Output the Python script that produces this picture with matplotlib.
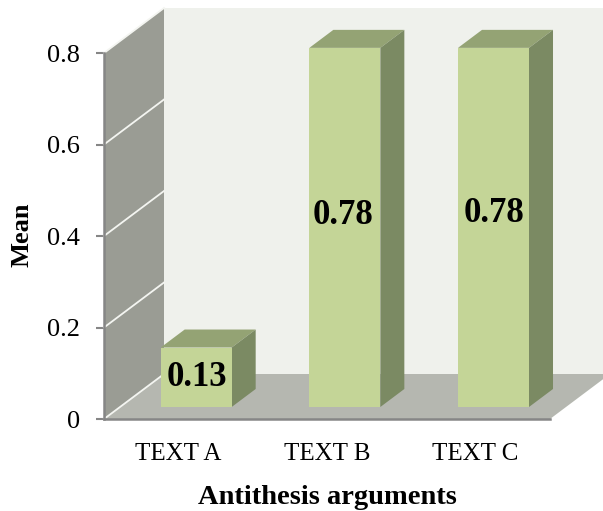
import matplotlib
matplotlib.use("Agg")
import matplotlib.pyplot as plt
from matplotlib.patches import Polygon

categories = ["TEXT A", "TEXT B", "TEXT C"]
bar_heights = [0.13, 0.785, 0.785]
bar_labels = ["0.13", "0.78", "0.78"]
y_ticks = [0, 0.2, 0.4, 0.6, 0.8]
y_tick_labels = ["0", "0.2", "0.4", "0.6", "0.8"]

W, H = 603, 511
plt.rcParams["font.family"] = ["Liberation Serif", "DejaVu Serif"]

fig = plt.figure(figsize=(W / 100, H / 100), dpi=100)
# axes box in pixels: left 104, right 550, y=0 at 419, y=0.8 at 53
ax = fig.add_axes([104 / W, 1 - 419 / H, 446 / W, 366 / H])
ax.set_xlim(-0.5, 2.5)
ax.set_ylim(0, 0.8)

# fake 3d depth, in data units
depth_x = 60 / 148.67
depth_y = 45 / 457.5
bar_dx = 24 / 148.67
bar_dy = 18 / 457.5
bar_base = 12 / 457.5
bar_width = 71 / 148.67
bar_shift = 0.12

def face(pts, color, z):
    ax.add_patch(Polygon(pts, closed=True, facecolor=color, edgecolor="none", zorder=z, clip_on=False))

# back wall, left wall, floor
face([(-0.5 + depth_x, depth_y), (2.5 + depth_x, depth_y), (2.5 + depth_x, 0.8 + depth_y), (-0.5 + depth_x, 0.8 + depth_y)], "#eff1ec", 1)
face([(-0.5, 0), (-0.5 + depth_x, depth_y), (-0.5 + depth_x, 0.8 + depth_y), (-0.5, 0.8)], "#9a9c94", 1)
face([(-0.5, 0), (2.5, 0), (2.5 + depth_x, depth_y), (-0.5 + depth_x, depth_y)], "#b5b7b0", 1)

# wall gridlines
for t in y_ticks:
    ax.plot([-0.5, -0.5 + depth_x], [t, t + depth_y], color="#f4f5f1", lw=1.3, zorder=2, clip_on=False)

xs = [i + bar_shift for i in range(len(categories))]
ax.bar(xs, bar_heights, width=bar_width, bottom=bar_base, color="#c4d597", zorder=4, clip_on=False)
for x, h in zip(xs, bar_heights):
    l = x - bar_width / 2
    r = x + bar_width / 2
    top = bar_base + h
    face([(l, top), (r, top), (r + bar_dx, top + bar_dy), (l + bar_dx, top + bar_dy)], "#94a374", 3)
    face([(r, bar_base), (r + bar_dx, bar_base + bar_dy), (r + bar_dx, top + bar_dy), (r, top)], "#7b8a63", 3)

# labels do not sit quite at the middle of the bars, offsets in pixels
label_dx = [1, -2, 0]
label_dy = [0, 12, 14]
for x, h, s, ox, oy in zip(xs, bar_heights, bar_labels, label_dx, label_dy):
    ax.annotate(s, (x, bar_base + h / 2), xytext=(ox * 0.72, oy * 0.72), textcoords="offset points",
                ha="center", va="center", fontsize=25, fontweight="bold", color="black", zorder=5)

ax.set_xticks(range(len(categories)))
ax.set_xticklabels(categories, fontsize=18)
ax.set_yticks(y_ticks)
ax.set_yticklabels(y_tick_labels, fontsize=19)
ax.tick_params(axis="x", length=0, pad=17)
ax.tick_params(axis="y", length=6, width=1.5, color="#868686", pad=11.5)

for side in ["top", "right"]:
    ax.spines[side].set_visible(False)
for side in ["left", "bottom"]:
    ax.spines[side].set_color("#868686")
    ax.spines[side].set_linewidth(1.8)
    ax.spines[side].set_zorder(6)

fig.text(327 / W, 1 - 497 / H, "Antithesis arguments", ha="center", va="center", fontsize=20.5, fontweight="bold")
fig.text(22 / W, 1 - 235 / H, "Mean", ha="center", va="center", rotation=90, fontsize=19, fontweight="bold")

fig.savefig("out.png", dpi=100)
